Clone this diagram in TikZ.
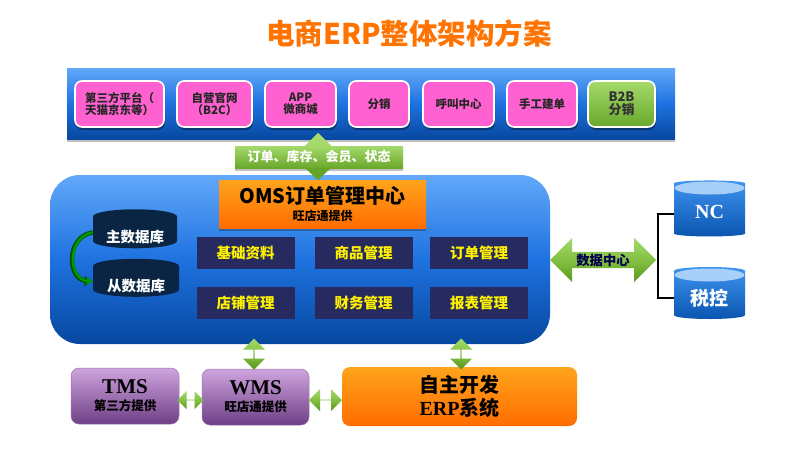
\documentclass[tikz,border=0pt]{standalone}
\usepackage{fontspec}
\setmainfont{Noto Sans CJK SC}
\newfontfamily\serfont{Liberation Serif}
\usetikzlibrary{shapes.geometric,shapes.arrows,shadows,arrows.meta}
\newcommand{\fs}[1]{\fontsize{#1}{#1}\selectfont}
\definecolor{bandtop}{HTML}{62A8FA}
\definecolor{bandmid}{HTML}{1E72E0}
\definecolor{bandbot}{HTML}{0748A0}
\definecolor{pink}{HTML}{FF62D0}
\definecolor{gtop}{HTML}{A4DA6A}
\definecolor{gmid}{HTML}{84C044}
\definecolor{gbot}{HTML}{58981C}
\definecolor{otop}{HTML}{FFA41C}
\definecolor{obot}{HTML}{FF6C00}
\definecolor{ptop}{HTML}{CFA4DE}
\definecolor{pbot}{HTML}{6E3F86}
\definecolor{navy}{HTML}{262A5E}
\definecolor{dbdark}{HTML}{0A2444}
\definecolor{cyltop}{HTML}{3E94F0}
\definecolor{cylbot}{HTML}{0A55B0}
\tikzset{
  softshadow/.style={drop shadow={shadow xshift=0pt,shadow yshift=-3pt,opacity=.25,fill=black}},
  pinkbox/.style={rectangle,rounded corners=7pt,fill=pink,draw=white,line width=1.6pt,inner sep=0pt,
    minimum height=46pt,align=center,font=\fs{11.5}\bfseries,text=black!85,
    drop shadow={shadow xshift=1pt,shadow yshift=-3pt,opacity=.35,fill=black}},
  greenbox/.style={pinkbox,fill=none,top color=gtop,bottom color=gbot!60!gmid,text=black!80,font=\fs{13}\bfseries},
  gridbox/.style={rectangle,fill=navy,inner sep=0pt,minimum width=98pt,minimum height=32pt,
    text=yellow,font=\fs{14.5}\bfseries},
  dblarrow/.style={double arrow,double arrow tip angle=90,double arrow head indent=0pt,inner sep=0pt,
    top color=gtop,bottom color=gbot,middle color=gmid},
  purplebox/.style={rectangle,rounded corners=8pt,top color=ptop,bottom color=pbot,draw=pbot!70,line width=.5pt,
    inner sep=0pt,align=center,text=black},
  dbcyl/.style={cylinder,shape border rotate=90,aspect=.25,inner sep=0pt,fill=dbdark,
    text=white,font=\fs{14.5}\bfseries},
  bluecyl/.style={cylinder,shape border rotate=90,aspect=.2,inner sep=0pt,top color=cyltop,bottom color=cylbot,
    text=white,font=\serfont\fs{20}\bfseries},
}
\begin{document}
\begin{tikzpicture}[x=1pt,y=-1pt]
\useasboundingbox (0,0) rectangle (800,450);
\fill[white] (0,0) rectangle (800,450);
\node[font=\fs{28.5}\bfseries,text=orange!90!red] (title) at (409,33) {电商ERP整体架构方案};
% top band
\node[rectangle,minimum width=608pt,minimum height=71pt,inner sep=0pt,top color=bandtop,bottom color=bandbot,middle color=bandmid,softshadow] (band) at (371,103.5) {};
\node[pinkbox,minimum width=89pt] (p1) at (119.5,104) {第三方平台（\\天猫京东等）};
\node[pinkbox,minimum width=75pt] (p2) at (214.5,104) {自营官网\\（B2C）};
\node[pinkbox,minimum width=71pt] (p3) at (300.5,104) {APP\\微商城};
\node[pinkbox,minimum width=60pt] (p4) at (379,104) {分销};
\node[pinkbox,minimum width=71pt] (p5) at (458.5,104) {呼叫中心};
\node[pinkbox,minimum width=70pt] (p6) at (542,104) {手工建单};
\node[greenbox,minimum width=67pt] (p7) at (621.5,104) {B2B\\分销};
% main panel
\node[rectangle,rounded corners=30pt,minimum width=500pt,minimum height=169pt,inner sep=0pt,top color=bandtop,bottom color=bandbot,middle color=bandmid] (panel) at (300,259.5) {};
% top connector
\node[dblarrow,shape border rotate=90,minimum height=47pt,minimum width=25pt,double arrow head extend=0pt] (upar) at (318,156.5) {};
\node[rectangle,minimum width=168pt,minimum height=22pt,inner sep=0pt,top color=gtop,bottom color=gbot!60!gmid,text=white,font=\fs{13}\bfseries,softshadow] (lab) at (319,157) {订单、库存、会员、状态};
\fill[gtop] (305,146) -- (318,133) -- (331,146) -- cycle;
\fill[gbot!70!gmid] (305,168) -- (318,180) -- (331,168) -- cycle;
% OMS
\node[rectangle,minimum width=207pt,minimum height=48pt,inner sep=0pt,top color=otop,bottom color=obot,align=center,softshadow] (oms) at (322.5,204)
  {{\fs{20}\bfseries OMS订单管理中心}\\[3pt]{\fs{12}\bfseries 旺店通提供}};
% grid
\node[gridbox] (g1) at (245.5,253) {基础资料};
\node[gridbox] (g2) at (363.5,253) {商品管理};
\node[gridbox] (g3) at (479,253) {订单管理};
\node[gridbox] (g4) at (245.5,302.5) {店铺管理};
\node[gridbox] (g5) at (363.5,302.5) {财务管理};
\node[gridbox] (g6) at (479,302.5) {报表管理};
% databases
\node[dbcyl,minimum width=84pt,minimum height=39pt] (mdb) at (135,232.5) {\raisebox{-10pt}[0pt][0pt]{主数据库}};
\node[dbcyl,minimum width=86pt,minimum height=38pt] (sdb) at (136,281.5) {\raisebox{-10pt}[0pt][0pt]{从数据库}};
\draw[line width=4.4pt,color=black!70!green,-{Stealth[length=9pt,width=11pt]}] (mdb.west) .. controls (66,236) and (66,280) .. (sdb.west);
\draw[line width=2.6pt,color=green!60!black,-{Stealth[length=7pt,width=8pt]}] (mdb.west) .. controls (67,236) and (67,280) .. (sdb.west);
% data centre
\node[bluecyl,minimum width=71pt,minimum height=56pt] (nc) at (709.5,210) {\raisebox{-8pt}[0pt][0pt]{NC}};
\node[bluecyl,minimum width=71pt,minimum height=52pt] (tax) at (709.5,295) {\raisebox{-10pt}[0pt][0pt]{\fs{19}\bfseries\rmfamily 税控}};
\fill[cyltop!45!white] (709.5,188) ellipse (35pt and 6.5pt);
\fill[cyltop!45!white] (709.5,275) ellipse (35pt and 6.5pt);
\node[dblarrow,minimum height=106pt,minimum width=44pt,double arrow head extend=11pt,text=black!70!blue,font=\fs{13.3}\bfseries] (dc) at (603,260) {数据中心};
\draw[line width=1.6pt,black] ([yshift=-4pt]nc.west) -- ++(-16,0) |- ([yshift=-3pt]tax.west);
% bottom
\node[purplebox,minimum width=108pt,minimum height=56pt] (tms) at (125,396) {{\serfont\fs{21}\bfseries TMS}\\[5pt]{\fs{12.5}\bfseries 第三方提供}};
\node[purplebox,minimum width=107pt,minimum height=56pt] (wms) at (255.5,397) {{\serfont\fs{21}\bfseries WMS}\\[5pt]{\fs{12.5}\bfseries 旺店通提供}};
\node[rectangle,rounded corners=8pt,minimum width=235pt,minimum height=59pt,inner sep=0pt,top color=otop,bottom color=obot,align=center,text=black] (erp) at (459.5,396.5)
  {{\fs{20}\bfseries 自主开发}\\[3pt]{\fs{20}\bfseries{\serfont ERP}系统}};
\node[dblarrow,shape border rotate=90,minimum height=31pt,minimum width=22pt,double arrow head extend=4pt] (a1) at (254,354) {};
\node[dblarrow,shape border rotate=90,minimum height=31pt,minimum width=22pt,double arrow head extend=4pt] (a2) at (461,354) {};
\node[dblarrow,minimum height=26pt,minimum width=18pt,double arrow head extend=4pt] (a3) at (190.5,400) {};
\node[dblarrow,minimum height=33pt,minimum width=22pt,double arrow head extend=5pt] (a4) at (325.5,400) {};
\end{tikzpicture}
\end{document}
